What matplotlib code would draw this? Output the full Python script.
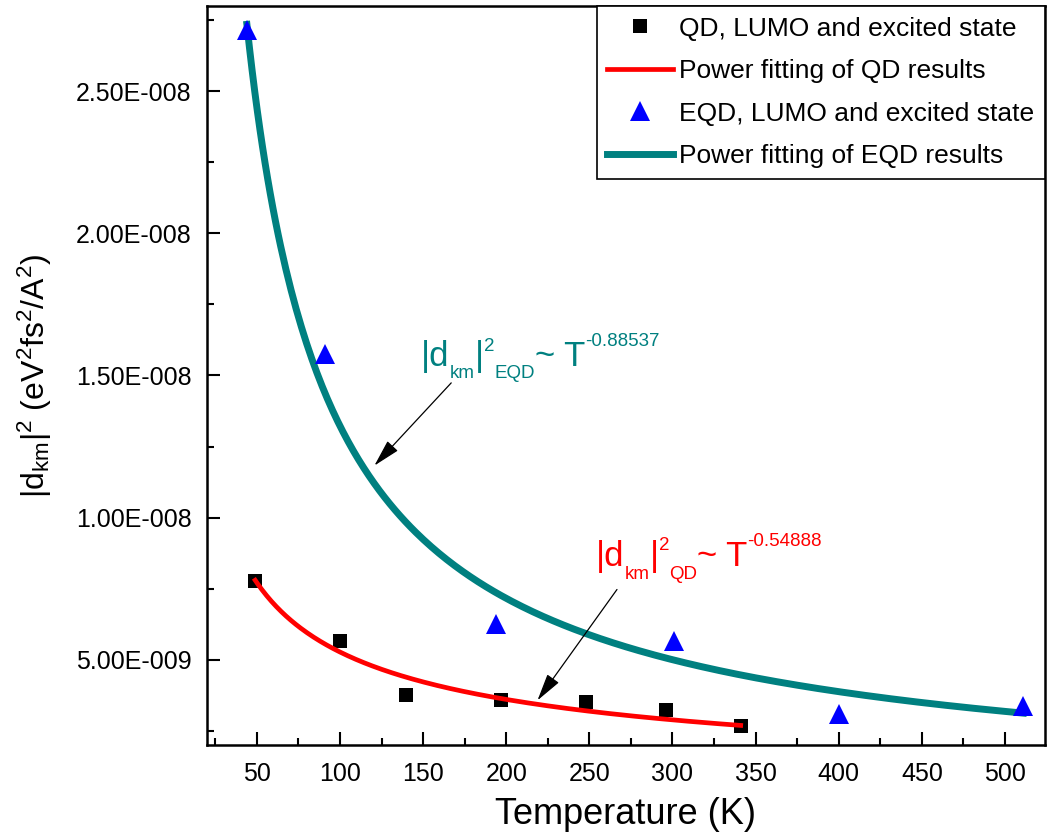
import numpy as np
import matplotlib
matplotlib.use('Agg')
import matplotlib.pyplot as plt
import matplotlib.transforms as mtransforms
from matplotlib.ticker import MultipleLocator, FuncFormatter

# measured transition dipole |d_km|^2 vs temperature
T_qd = [49, 100, 140, 197, 248, 296, 341]
d_qd = [7.76e-9, 5.65e-9, 3.75e-9, 3.57e-9, 3.51e-9, 3.24e-9, 2.67e-9]
T_eqd = [44, 91, 194, 301, 400, 511]
d_eqd = [2.715e-8, 1.576e-8, 6.27e-9, 5.65e-9, 3.10e-9, 3.36e-9]

# power-law fits  d = a * T^b
a_qd, b_qd = 6.60e-8, -0.54888
a_eqd, b_eqd = 7.80e-7, -0.88537

plt.rcParams['font.family'] = ['Liberation Sans', 'DejaVu Sans']
plt.rcParams['mathtext.fontset'] = 'custom'
plt.rcParams['mathtext.rm'] = 'Liberation Sans'
plt.rcParams['mathtext.it'] = 'Liberation Sans'
plt.rcParams['mathtext.bf'] = 'Liberation Sans:bold'
plt.rcParams['mathtext.default'] = 'regular'

TEAL = '#008080'


def origin_sci(v, pos):
    mant, ex = f"{v:.2E}".split('E')
    ex = int(ex)
    return f"{mant}E{'-' if ex < 0 else '+'}{abs(ex):03d}"


def rich_label(ax, x, y, pieces, color):
    # lay out (text, size, rise) pieces one after another on a common baseline
    fig = ax.figure
    renderer = fig.canvas.get_renderer()
    dx = 0.0
    for s, size, rise in pieces:
        tr = mtransforms.offset_copy(ax.transData, fig=fig, x=dx, y=rise, units='points')
        t = ax.text(x, y, s, transform=tr, fontsize=size, color=color,
                    ha='left', va='baseline')
        dx += t.get_window_extent(renderer).width * 72 / fig.dpi


fig = plt.figure(figsize=(10.47, 8.36), dpi=100)
ax = fig.add_axes([0.1977, 0.1089, 0.8003, 0.8839])

t_fit_qd = np.linspace(min(T_qd), max(T_qd), 300)
t_fit_eqd = np.linspace(min(T_eqd), max(T_eqd), 300)

ax.plot(T_qd, d_qd, 's', color='black', ms=10, mew=0, label='QD, LUMO and excited state', zorder=3)
ax.plot(t_fit_qd, a_qd * t_fit_qd ** b_qd, '-', color='red', lw=3.4,
        label='Power fitting of QD results', zorder=4)
ax.plot(T_eqd, d_eqd, '^', color='blue', ms=14, mew=0, label='EQD, LUMO and excited state', zorder=3)
ax.plot(t_fit_eqd, a_eqd * t_fit_eqd ** b_eqd, '-', color=TEAL, lw=5,
        label='Power fitting of EQD results', zorder=2)

ax.set_xlim(20, 524)
ax.set_ylim(2.0e-9, 2.8e-8)
ax.set_xticks(np.arange(50, 501, 50))
ax.xaxis.set_minor_locator(MultipleLocator(25))
ax.set_yticks([5e-9, 1e-8, 1.5e-8, 2e-8, 2.5e-8])
ax.yaxis.set_minor_locator(MultipleLocator(2.5e-9))
ax.yaxis.set_major_formatter(FuncFormatter(origin_sci))

ax.tick_params(which='both', direction='in', top=False, right=False, labelsize=18)
ax.tick_params(which='major', length=9.5, width=1.5)
ax.tick_params(which='minor', length=5, width=1.5)
ax.tick_params(axis='y', pad=11)
ax.tick_params(axis='x', pad=12)
for sp in ax.spines.values():
    sp.set_linewidth(1.8)

ax.set_xlabel('Temperature (K)', fontsize=26, labelpad=8)
ax.set_ylabel(r'$|d_{km}|^2$ (eV$^2$fs$^2$/A$^2$)', fontsize=23, labelpad=16)

# fit labels and their arrows
arrow = dict(arrowstyle='-|>,head_length=0.85,head_width=0.22', color='black',
             lw=0.9, mutation_scale=20, shrinkA=0, shrinkB=0)
ax.annotate('', xy=(120.7, 1.183e-8), xytext=(166.9, 1.474e-8), arrowprops=arrow)
ax.annotate('', xy=(218.8, 3.57e-9), xytext=(266.6, 7.47e-9), arrowprops=arrow)

rich_label(ax, 148.7, 1.534e-8,
           [('|d', 25, 0), ('km', 13.5, -8.5), ('|', 25, 0), ('2', 13.5, 11),
            ('EQD', 13.5, -8.5), ('~ T', 25, 0), ('-0.88537', 13.5, 14.5)], TEAL)
rich_label(ax, 254, 8.31e-9,
           [('|d', 25, 0), ('km', 13.5, -9.5), ('|', 25, 0), ('2', 13.5, 11),
            ('QD', 13.5, -9.5), ('~ T', 25, 0), ('-0.54888', 13.5, 14)], 'red')

leg = ax.legend(loc='upper right', bbox_to_anchor=(1, 1), borderaxespad=0, fontsize=19,
                frameon=True, fancybox=False, framealpha=1, edgecolor='black',
                handlelength=2.5, handletextpad=0.23, labelspacing=0.7, borderpad=0.4)
leg.get_frame().set_linewidth(1.2)

fig.savefig('out.png', dpi=100)
